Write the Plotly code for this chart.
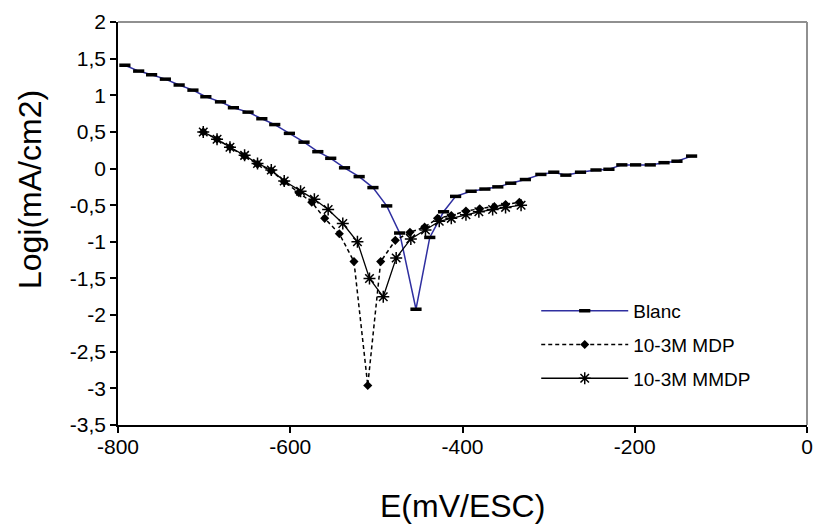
import plotly.graph_objects as go

# ---- data ----
blanc_x = [-792, -776, -761, -745, -729, -713, -698, -681, -666, -649, -633, -618,
           -601, -584, -568, -553, -537, -520, -504, -488, -473, -454, -438, -422,
           -408, -390, -374, -359, -344, -327, -309, -294, -280, -263, -245, -230,
           -215, -199, -182, -166, -151, -134]
blanc_y = [1.41, 1.33, 1.28, 1.22, 1.14, 1.07, 0.98, 0.91, 0.83, 0.77, 0.68, 0.60,
           0.48, 0.36, 0.23, 0.14, 0.01, -0.11, -0.26, -0.51, -0.88, -1.92, -0.94, -0.59,
           -0.38, -0.31, -0.28, -0.25, -0.20, -0.15, -0.08, -0.05, -0.09, -0.05, -0.02, -0.01,
           0.05, 0.05, 0.05, 0.08, 0.10, 0.17]

mdp_x = [-701, -685, -670, -653, -638, -622, -607, -590, -575, -560, -543, -526,
         -510, -495, -478, -461, -444, -429, -413, -396, -380, -363, -350, -334]
mdp_y = [0.50, 0.40, 0.29, 0.17, 0.06, -0.03, -0.18, -0.33, -0.46, -0.68, -0.89, -1.27,
         -2.96, -1.27, -0.98, -0.87, -0.80, -0.68, -0.64, -0.58, -0.55, -0.52, -0.49, -0.46]

mmdp_x = [-701, -685, -670, -653, -638, -622, -607, -588, -572, -556, -539, -522,
          -508, -492, -477, -460, -443, -427, -413, -396, -381, -365, -350, -332]
mmdp_y = [0.50, 0.40, 0.29, 0.18, 0.07, -0.02, -0.17, -0.31, -0.42, -0.56, -0.75, -1.00,
          -1.50, -1.75, -1.22, -0.96, -0.84, -0.72, -0.68, -0.63, -0.59, -0.56, -0.53, -0.50]

series_names = ["Blanc", "10-3M MDP", "10-3M MMDP"]

x_ticks = [-800, -600, -400, -200, 0]
x_ticktext = ["-800", "-600", "-400", "-200", "0"]
y_ticks = [2, 1.5, 1, 0.5, 0, -0.5, -1, -1.5, -2, -2.5, -3, -3.5]
y_ticktext = ["2", "1,5", "1", "0,5", "0", "-0,5", "-1", "-1,5", "-2", "-2,5", "-3", "-3,5"]

x_title = "E(mV/ESC)"
y_title = "Logi(mA/cm2)"

FONT = "Liberation Sans, Arial, sans-serif"

fig = go.Figure()
fig.add_trace(go.Scatter(
    x=blanc_x, y=blanc_y, name=series_names[0], mode="lines+markers",
    legendgroup="a",
    line=dict(color="#2f2fa0", width=1.5),
    marker=dict(symbol="line-ew", size=8, color="black",
                line=dict(color="black", width=3.5)),
))
fig.add_trace(go.Scatter(
    x=mdp_x, y=mdp_y, name=series_names[1], mode="lines+markers",
    legendgroup="b",
    line=dict(color="black", width=1.5, dash="4px,3px"),
    marker=dict(symbol="diamond", size=7, color="black"),
))
fig.add_trace(go.Scatter(
    x=mmdp_x, y=mmdp_y, name=series_names[2], mode="lines+markers",
    legendgroup="c",
    line=dict(color="black", width=1.3),
    marker=dict(symbol="asterisk", size=10, color="black",
                line=dict(color="black", width=1.5)),
))

fig.update_layout(
    width=815, height=531,
    margin=dict(l=118, r=8, t=22, b=106),
    paper_bgcolor="white", plot_bgcolor="white",
    font=dict(family=FONT, color="black", size=19),
    showlegend=True,
    legend=dict(x=0.607, y=0.33, xanchor="left", yanchor="top",
                bgcolor="rgba(0,0,0,0)", font=dict(size=19, family=FONT),
                itemwidth=87, tracegroupgap=6),
    xaxis=dict(range=[-800, 0], tickvals=x_ticks, ticktext=x_ticktext,
               ticks="outside", ticklen=6, automargin=False,
               ticklabeloverflow="allow", ticklabelstandoff=-4,
               tickcolor="black", tickwidth=1.5, showline=True, linecolor="black",
               linewidth=1.5, showgrid=False, zeroline=False,
               tickfont=dict(size=21, family=FONT)),
    yaxis=dict(range=[-3.5, 2], tickvals=y_ticks, ticktext=y_ticktext,
               ticks="outside", ticklen=6, automargin=False,
               ticklabeloverflow="allow",
               tickcolor="black", tickwidth=1.5,
               showline=True, linecolor="black", linewidth=1.5,
               showgrid=False, zeroline=False,
               tickfont=dict(size=21, family=FONT)),
    shapes=[
        dict(type="line", xref="paper", yref="paper", x0=0, x1=1, y0=1, y1=1,
             line=dict(color="#909090", width=2)),
        dict(type="line", xref="paper", yref="paper", x0=1, x1=1, y0=0, y1=1,
             line=dict(color="#909090", width=2)),
    ],
    annotations=[
        dict(text=x_title, xref="paper", yref="paper", x=0.5, y=-0.2,
             xanchor="center", yanchor="middle", showarrow=False,
             font=dict(size=32, family=FONT)),
        dict(text=y_title, xref="paper", yref="paper", x=-0.128, y=0.585,
             xanchor="center", yanchor="middle", showarrow=False, textangle=-90,
             font=dict(size=32, family=FONT)),
    ],
)

fig.write_html("out.html", config={"displayModeBar": False},
               post_script="document.body.style.margin='0px';")
